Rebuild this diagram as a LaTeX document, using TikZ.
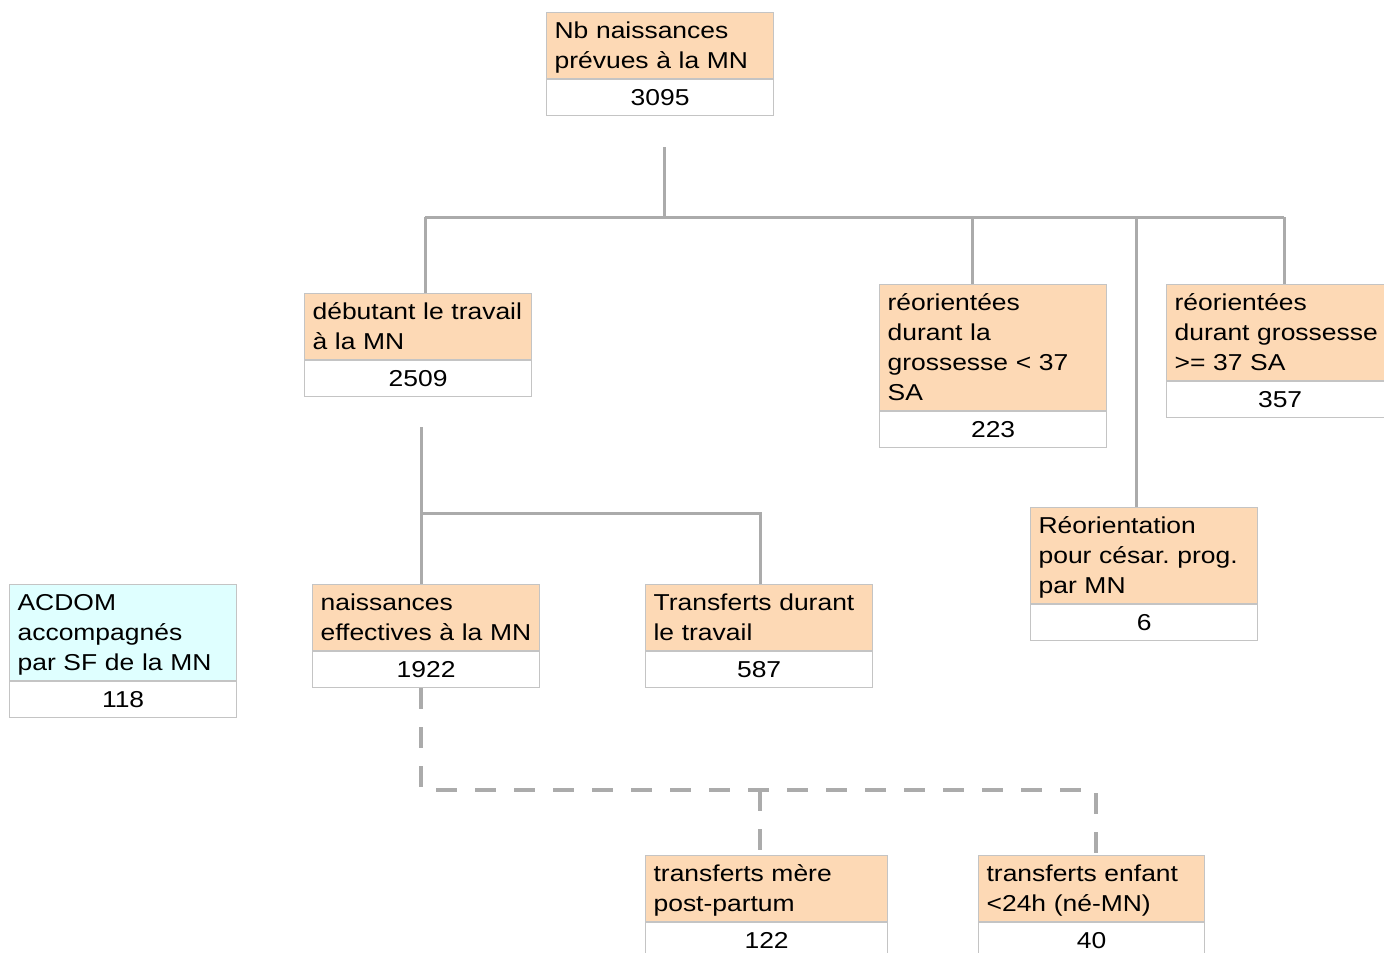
\documentclass[tikz,border=0pt]{standalone}
\usepackage{fontspec}
\setmainfont{Liberation Sans}[FakeStretch=1.15]
\frenchspacing
\definecolor{peach}{HTML}{FDD9B5}
\definecolor{cyanbox}{HTML}{DFFFFF}
\definecolor{bordergray}{HTML}{C4C4C4}
\definecolor{conngray}{HTML}{ABABAB}
\newcommand\hs{\rule{0pt}{23.5pt}}
\newcommand\ds{\rule[-6.5pt]{0pt}{6.5pt}}
\tikzset{
  hdr/.style={draw=bordergray, line width=1.2pt, anchor=north west, align=left,
    inner xsep=8pt, inner ysep=2.8pt, font=\fontsize{23}{30}\selectfont},
  valbox/.style={draw=bordergray, line width=1.2pt, fill=white, anchor=north west,
    inner sep=0pt, minimum height=36pt, font=\fontsize{23}{30}\selectfont},
  conn/.style={draw=conngray, line width=3pt},
  dconn/.style={draw=conngray, line width=3.5pt, dash pattern=on 21pt off 18pt}
}
% name, x, y, width, text width, fill, header text, value
\newcommand\obox[8]{%
  \node[hdr, fill=#6, text width=#5pt] (#1) at (#2,#3) {#7};
  \node[valbox, minimum width=#4pt] (#1v) at (#1.south west) {#8};
}
\begin{document}
\begin{tikzpicture}[x=1pt,y=-1pt]
\useasboundingbox (0,0) rectangle (1384,953);
\clip (0,0) rectangle (1384,953);
\fill[white] (0,0) rectangle (1384,953);

\coordinate (c0) at (664,147);
\coordinate (j0) at (664,217);
\coordinate (jl) at (425,217);
\coordinate (j3) at (972,217);
\coordinate (j5) at (1136,217);
\coordinate (jr) at (1284,217);
\coordinate (c1) at (421,427);
\coordinate (j1) at (421,513);
\coordinate (j2) at (760,513);
\coordinate (d1) at (421,790);
\coordinate (dm) at (760,790);
\coordinate (d2) at (1096,790);

\obox{top}{546}{12}{227}{211}{peach}{\mbox{\hs Nb naissances}\\\mbox{prévues à la MN\ds}}{3095}
\obox{deb}{304}{293}{227}{211}{peach}{\mbox{\hs débutant le travail}\\\mbox{à la MN\ds}}{2509}
\obox{ra}{879}{284}{227}{211}{peach}{\mbox{\hs réorientées}\\\mbox{durant la}\\\mbox{grossesse < 37}\\\mbox{SA\ds}}{223}
\obox{rb}{1166}{284}{227}{211}{peach}{\mbox{\hs réorientées}\\\mbox{durant grossesse}\\\mbox{>= 37 SA\ds}}{357}
\obox{reo}{1030}{507}{227}{211}{peach}{\mbox{\hs Réorientation}\\\mbox{pour césar. prog.}\\\mbox{par MN\ds}}{6}
\obox{acd}{9}{584}{227}{211}{cyanbox}{\mbox{\hs ACDOM}\\\mbox{accompagnés}\\\mbox{par SF de la MN\ds}}{118}
\obox{nai}{312}{584}{227}{211}{peach}{\mbox{\hs naissances}\\\mbox{effectives à la MN\ds}}{1922}
\obox{tra}{645}{584}{227}{211}{peach}{\mbox{\hs Transferts durant}\\\mbox{le travail\ds}}{587}
\obox{mere}{645}{855}{242}{226}{peach}{\mbox{\hs transferts mère}\\\mbox{post-partum\ds}}{122}
\obox{enf}{978}{855}{226}{210}{peach}{\mbox{\hs transferts enfant}\\\mbox{<24h (né-MN)\ds}}{40}

\draw[conn] (c0) -- (j0);
\draw[conn] (jl) -- (jr);
\draw[conn] (jl) -- (jl |- deb.north);
\draw[conn] (j3) -- (j3 |- ra.north);
\draw[conn] (j5) -- (j5 |- reo.north);
\draw[conn] (jr) -- (jr |- rb.north);

\draw[conn] (c1) -- (c1 |- nai.north);
\draw[conn] (j1) -- (j2) -- (j2 |- tra.north);

\draw[dconn] (d1 |- naiv.south) -- (d1) -- (d2) -- (d2 |- enf.north);
\draw[dconn] (dm) -- (dm |- mere.north);
\end{tikzpicture}
\end{document}
